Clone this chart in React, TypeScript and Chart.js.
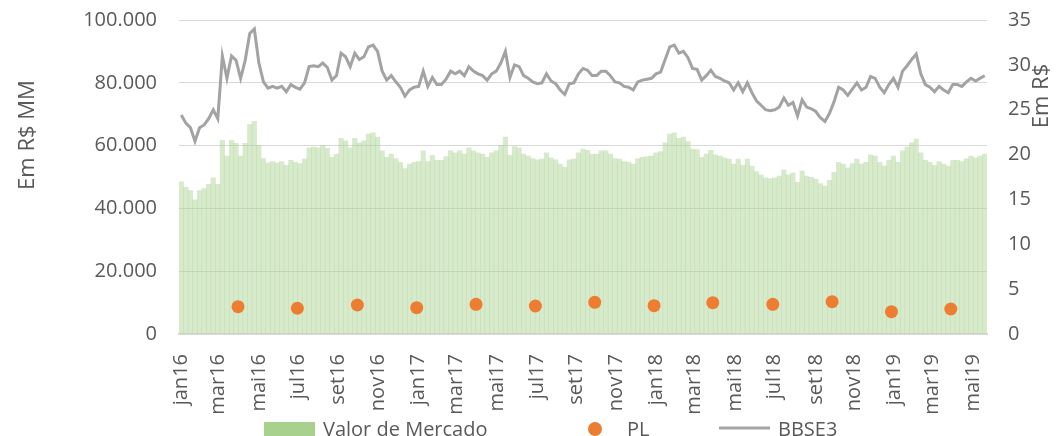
import React, { useEffect, useRef } from "react";
import { Chart, registerables } from "chart.js";

Chart.register(...registerables);

// Weekly series starting on the first trading week of 2016
const START_DATE = "2016-01-04";

// BBSE3 share price (R$), weekly readings
const bbse3 = [
  24.4, 23.5, 23.0, 21.5, 23.0, 23.3, 24.0, 25.0, 24.0, 31.0,
  28.5, 31.0, 30.5, 28.5, 30.5, 33.5, 34.0, 30.2, 28.1, 27.4,
  27.6, 27.4, 27.6, 27.0, 27.8, 27.5, 27.3, 28.0, 29.8, 29.9,
  29.8, 30.2, 29.7, 28.3, 28.8, 31.3, 30.9, 29.8, 31.3, 30.6,
  30.9, 32.0, 32.2, 31.5, 29.3, 28.3, 28.8, 28.1, 27.5, 26.5,
  27.2, 27.5, 27.6, 29.3, 27.6, 28.6, 27.8, 27.8, 28.4, 29.3,
  29.0, 29.3, 28.8, 29.8, 29.3, 29.0, 28.8, 28.3, 29.0, 29.3,
  30.2, 31.5, 28.6, 30.0, 29.8, 28.8, 28.5, 28.1, 27.9, 28.0,
  29.0, 28.2, 27.9, 27.2, 26.7, 27.9, 28.0, 29.0, 29.6, 29.4,
  28.8, 28.8, 29.3, 29.3, 28.8, 28.1, 28.0, 27.6, 27.5, 27.2,
  28.1, 28.3, 28.4, 28.5, 29.0, 29.2, 30.6, 32.0, 32.2, 31.3,
  31.5, 30.8, 29.6, 29.5, 28.3, 28.8, 29.4, 28.7, 28.5, 28.2,
  28.0, 27.2, 28.0, 27.0, 28.0, 26.9, 26.0, 25.5, 25.0, 24.9,
  25.0, 25.3, 26.3, 25.5, 25.8, 24.3, 26.1, 25.3, 25.1, 24.8,
  24.1, 23.7, 24.6, 25.9, 27.5, 27.2, 26.6, 27.3, 28.0, 27.2,
  27.5, 28.7, 28.5, 27.5, 26.9, 27.8, 28.5, 27.5, 29.3, 29.9,
  30.6, 31.2, 29.0, 27.8, 27.5, 27.0, 27.6, 27.2, 26.9, 27.8,
  27.8, 27.6, 28.1, 28.5, 28.2, 28.5, 28.8,
];

// Valor de Mercado (R$ MM), weekly readings
const valorMercado = [
  48500, 46700, 45700, 42700, 45700, 46300, 47700, 49700, 47700, 61700,
  56700, 61700, 60700, 56700, 60700, 66700, 67700, 60100, 55900, 54500,
  54900, 54500, 54900, 53700, 55300, 54700, 54300, 55700, 59300, 59500,
  59300, 60100, 59100, 56300, 57300, 62300, 61500, 59300, 62300, 60900,
  61500, 63700, 64100, 62700, 58300, 56300, 57300, 55900, 54700, 52700,
  54100, 54700, 54900, 58300, 54900, 56900, 55300, 55300, 56500, 58300,
  57700, 58300, 57300, 59300, 58300, 57700, 57300, 56300, 57700, 58300,
  60100, 62700, 56900, 59700, 59300, 57300, 56700, 55900, 55500, 55700,
  57700, 56100, 55500, 54100, 53100, 55500, 55700, 57700, 58900, 58500,
  57300, 57300, 58300, 58300, 57300, 55900, 55700, 54900, 54700, 54100,
  55900, 56300, 56500, 56700, 57700, 58100, 60900, 63700, 64100, 62300,
  62700, 61300, 58900, 58700, 56300, 57300, 58500, 57100, 56700, 56100,
  55700, 54100, 55700, 53700, 55700, 53500, 51700, 50700, 49700, 49500,
  49700, 50300, 52300, 50700, 51300, 48300, 51900, 50300, 49900, 49300,
  47900, 47100, 48900, 51500, 54700, 54100, 52900, 54300, 55700, 54100,
  54700, 57100, 56700, 54700, 53500, 55300, 56700, 54700, 58300, 59500,
  60900, 62100, 57700, 55300, 54700, 53700, 54900, 54100, 53500, 55300,
  55300, 54900, 55900, 56700, 56100, 56700, 57300,
];

// PL (R$ MM), quarterly
const plDates = [
  "2016-03-31", "2016-06-30", "2016-09-30", "2016-12-30",
  "2017-03-31", "2017-06-30", "2017-09-29", "2017-12-29",
  "2018-03-29", "2018-06-29", "2018-09-28", "2018-12-28",
  "2019-03-29",
];
const plValues = [8700, 8200, 9240, 8380, 9460, 8920, 10100, 9010, 9970, 9460, 10290, 7100, 7960];

// X-axis tick labels and the dates they mark
const monthTickLabels = [
  "jan16", "mar16", "mai16", "jul16", "set16", "nov16",
  "jan17", "mar17", "mai17", "jul17", "set17", "nov17",
  "jan18", "mar18", "mai18", "jul18", "set18", "nov18",
  "jan19", "mar19", "mai19",
];
const monthTickDates = [
  "2016-01-04", "2016-03-01", "2016-05-02", "2016-07-01", "2016-09-01", "2016-11-01",
  "2017-01-02", "2017-03-01", "2017-05-02", "2017-07-03", "2017-09-01", "2017-11-01",
  "2018-01-02", "2018-03-01", "2018-05-02", "2018-07-02", "2018-09-03", "2018-11-01",
  "2019-01-02", "2019-03-01", "2019-05-02",
];

const FONT = "'Open Sans', sans-serif";
const TEXT = "#595959";

const weeksFrom = (d: string) =>
  (Date.parse(d) - Date.parse(START_DATE)) / (7 * 86400000);

const fmtThousands = (v: number) =>
  String(Math.round(v)).replace(/\B(?=(\d{3})+(?!\d))/g, ".");

const overlayPlugin = {
  id: "overlay",
  afterDraw(chart: any) {
    const ctx = chart.ctx as CanvasRenderingContext2D;
    ctx.save();
    ctx.fillStyle = TEXT;
    ctx.font = `22px ${FONT}`;
    ctx.textAlign = "center";
    ctx.textBaseline = "middle";
    // left axis title
    ctx.save();
    ctx.translate(28, 135);
    ctx.rotate(-Math.PI / 2);
    ctx.fillText("Em R$ MM", 0, 0);
    ctx.restore();
    // right axis title
    ctx.save();
    ctx.translate(1042, 96);
    ctx.rotate(-Math.PI / 2);
    ctx.fillText("Em R$", 0, 0);
    ctx.restore();

    // legend
    ctx.font = `20px ${FONT}`;
    ctx.textAlign = "left";
    ctx.textBaseline = "alphabetic";
    const baseY = 436;
    ctx.fillStyle = "#a9d18e";
    ctx.fillRect(264, 422, 51, 14);
    ctx.fillStyle = TEXT;
    ctx.fillText("Valor de Mercado", 323, baseY);

    ctx.fillStyle = "#ed7d31";
    ctx.beginPath();
    ctx.arc(595, 429, 7, 0, Math.PI * 2);
    ctx.fill();
    ctx.fillStyle = TEXT;
    ctx.fillText("PL", 627, baseY);

    ctx.strokeStyle = "#a5a5a5";
    ctx.lineWidth = 3;
    ctx.beginPath();
    ctx.moveTo(719, 428);
    ctx.lineTo(770, 428);
    ctx.stroke();
    ctx.fillStyle = TEXT;
    ctx.fillText("BBSE3", 778, baseY);
    ctx.restore();
  },
};

export default function App() {
  const canvasRef = useRef<HTMLCanvasElement | null>(null);

  useEffect(() => {
    document.body.style.margin = "0";
    document.body.style.overflow = "hidden";
    const canvas = canvasRef.current;
    if (!canvas) return;

    const chart = new Chart(canvas, {
      type: "bar",
      data: {
        datasets: [
          {
            type: "line",
            label: "PL",
            data: plDates.map((d, i) => ({ x: weeksFrom(d), y: plValues[i] })),
            showLine: false,
            pointRadius: 6.5,
            pointHoverRadius: 6.5,
            pointBackgroundColor: "#ed7d31",
            pointBorderWidth: 0,
            borderColor: "#ed7d31",
            yAxisID: "y",
            order: 1,
          },
          {
            type: "line",
            label: "BBSE3",
            data: bbse3.map((v, i) => ({ x: i, y: v })),
            borderColor: "#a3a3a3",
            borderWidth: 3,
            pointRadius: 0,
            tension: 0,
            yAxisID: "y1",
            order: 2,
          },
          {
            type: "bar",
            label: "Valor de Mercado",
            data: valorMercado.map((v, i) => ({ x: i, y: v })),
            backgroundColor: "rgba(169,209,142,0.45)",
            borderWidth: 0,
            barPercentage: 1,
            categoryPercentage: 1,
            yAxisID: "y",
            order: 3,
          },
        ] as any,
      },
      options: {
        responsive: false,
        animation: false,
        devicePixelRatio: 1,
        layout: { padding: { top: 20, left: 0, right: 0, bottom: 0 } },
        plugins: {
          legend: { display: false },
          tooltip: { enabled: false },
        },
        scales: {
          x: {
            type: "linear",
            min: -0.5,
            max: valorMercado.length - 0.5,
            offset: false,
            grid: { display: false },
            border: { display: true, color: "#d9d9d9", width: 2 },
            afterBuildTicks: (scale: any) => {
              scale.ticks = monthTickDates.map((d) => ({ value: weeksFrom(d) }));
            },
            afterFit: (scale: any) => {
              scale.height = 102;
              scale.paddingLeft = 0;
              scale.paddingRight = 0;
            },
            ticks: {
              autoSkip: false,
              maxRotation: 90,
              minRotation: 90,
              padding: 12,
              color: TEXT,
              font: { family: FONT, size: 20 },
              callback: (_v: any, i: number) => monthTickLabels[i],
            },
          },
          y: {
            position: "left",
            min: 0,
            max: 100000,
            grid: { color: "#d9d9d9", lineWidth: 1, drawTicks: false },
            border: { display: false },
            afterFit: (scale: any) => {
              scale.width = 179;
              scale.paddingTop = 0;
              scale.paddingBottom = 0;
            },
            ticks: {
              stepSize: 20000,
              padding: 22,
              color: TEXT,
              font: { family: FONT, size: 20 },
              callback: (v: any) => fmtThousands(Number(v)),
            },
          },
          y1: {
            position: "right",
            min: 0,
            max: 35,
            grid: { display: false, drawTicks: false },
            border: { display: false },
            afterFit: (scale: any) => {
              scale.width = 75;
              scale.paddingTop = 0;
              scale.paddingBottom = 0;
            },
            ticks: {
              stepSize: 5,
              padding: 21,
              color: TEXT,
              font: { family: FONT, size: 20 },
            },
          },
        },
      } as any,
      plugins: [overlayPlugin],
    });

    return () => chart.destroy();
  }, []);

  return (
    <canvas
      ref={canvasRef}
      width={1062}
      height={436}
      style={{ display: "block", width: 1062, height: 436 }}
    />
  );
}
